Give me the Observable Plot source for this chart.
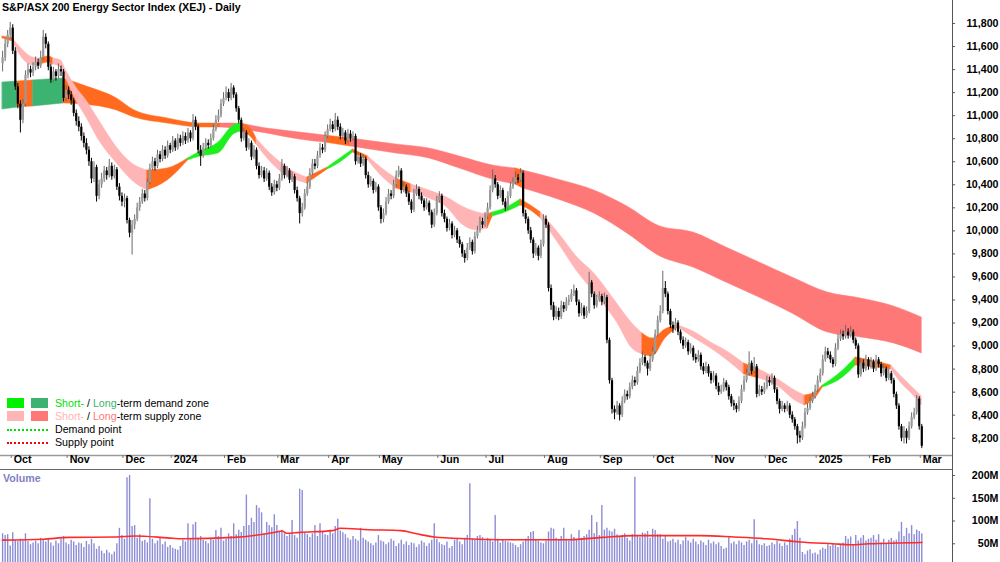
<!DOCTYPE html>
<html>
<head>
<meta charset="utf-8">
<script src="https://cdn.jsdelivr.net/npm/d3@7"></script>
<script src="https://cdn.jsdelivr.net/npm/@observablehq/plot@0.6"></script>
<style>
  html,body{margin:0;padding:0;background:#fff;}
  #wrap{position:relative;width:1000px;height:562px;overflow:hidden;background:#fff;font-family:"Liberation Sans",Arial,sans-serif;}
  #price,#vol{position:absolute;left:0;}
  #price{top:0;} #vol{top:469px;}
  #price svg,#vol svg{display:block;}
  .ov{position:absolute;white-space:nowrap;font-size:10.67px;line-height:13px;color:#000;z-index:2;}
  .b{font-weight:bold;}
  .sq{position:absolute;width:17px;height:10px;z-index:2;}
  .dot{position:absolute;width:41px;height:0;z-index:2;}
</style>
</head>
<body>
<div id="wrap">
  <div id="price"></div>
  <div id="vol"></div>
  <div class="ov b" style="left:2px;top:1px;">S&amp;P/ASX 200 Energy Sector Index (XEJ) - Daily</div>
  <div class="ov b" style="left:3px;top:472px;color:#7f7fc6;">Volume</div>
  <div class="sq" style="left:7px;top:398px;background:#00f000;"></div>
  <div class="sq" style="left:31px;top:398px;background:#3cb371;"></div>
  <div class="sq" style="left:7px;top:411px;background:#ffb5b5;"></div>
  <div class="sq" style="left:31px;top:411px;background:#ff7878;"></div>
  <div class="dot" style="left:7px;top:429px;border-top:2px dotted #00e000;"></div>
  <div class="dot" style="left:7px;top:442px;border-top:2px dotted #ff0000;"></div>
  <div class="ov" style="left:55px;top:397px;"><span style="color:#00dd00">Short-</span> / <span style="color:#3cb371">Long</span>-term demand zone</div>
  <div class="ov" style="left:55px;top:410px;"><span style="color:#ffb5b5">Short-</span> / <span style="color:#ff7878">Long</span>-term supply zone</div>
  <div class="ov" style="left:55px;top:423px;">Demand point</div>
  <div class="ov" style="left:55px;top:436px;">Supply point</div>
</div>
<script>
// ---- Daily candles (index 0 = 26 Sep 2023 ... 362 = 3 Mar 2025) ----
const open = [
11450,11500,11620,11700,11760,11560,11250,11100,10960,11100,
11350,11400,11370,11420,11460,11430,11500,11680,11620,11420,
11310,11380,11340,11400,11380,11150,11220,11180,11130,11020,
10950,10900,10820,10760,10700,10600,10450,10550,10300,10400,
10450,10520,10480,10560,10470,10530,10380,10300,10250,10280,
10090,9980,10050,10100,10200,10250,10320,10280,10420,10540,
10600,10560,10660,10620,10700,10650,10740,10700,10780,10720,
10800,10760,10820,10780,10850,10800,10960,10900,10700,10650,
10720,10760,10740,10800,10880,10960,11000,11100,11150,11200,
11150,11240,11180,11060,10960,10800,10850,10720,10760,10640,
10700,10560,10480,10520,10450,10500,10380,10330,10400,10370,
10450,10560,10480,10520,10440,10470,10350,10280,10150,10200,
10320,10380,10500,10580,10560,10650,10720,10700,10820,10880,
10920,10880,10960,10900,10820,10850,10780,10840,10800,10820,
10600,10640,10580,10620,10480,10400,10430,10350,10380,10200,
10100,10150,10250,10320,10300,10400,10480,10520,10350,10380,
10320,10250,10180,10320,10360,10300,10260,10200,10240,10160,
10050,10150,10260,10300,10150,10100,10020,10060,9960,10000,
9920,9880,9800,9760,9850,9900,9820,9950,10000,10080,
10050,10120,10200,10350,10450,10400,10300,10350,10250,10200,
10300,10380,10420,10460,10440,10500,10150,10100,10000,9920,
9800,9850,9780,9880,10100,10050,9500,9350,9250,9300,
9250,9350,9320,9380,9400,9450,9480,9380,9280,9330,
9260,9300,9550,9450,9350,9400,9430,9380,9420,9050,
8700,8450,8420,8480,8400,8520,8580,8560,8640,8700,
8680,8780,8850,8900,8850,8800,8880,8950,9100,9220,
9300,9500,9450,9300,9180,9150,9200,9120,9050,9000,
9030,8950,8980,8900,8880,8920,8820,8780,8820,8760,
8700,8740,8650,8600,8620,8680,8640,8560,8500,8480,
8450,8520,8620,8700,8760,8850,8780,8820,8580,8620,
8600,8640,8700,8680,8720,8620,8520,8450,8480,8450,
8480,8400,8360,8300,8220,8200,8300,8420,8460,8520,
8560,8620,8700,8760,8880,8950,8920,8880,8840,8980,
9060,9100,9080,9120,9090,9120,9050,9000,8750,8850,
8800,8880,8820,8860,8800,8880,8840,8760,8800,8720,
8760,8700,8580,8480,8300,8200,8260,8200,8300,8380,
8420,8540,8300];
const high = [
11560,11660,11740,11810,11790,11590,11280,11130,11140,11390,
11450,11430,11460,11510,11490,11560,11740,11710,11640,11450,
11420,11400,11450,11430,11400,11260,11250,11210,11150,11050,
10990,10930,10850,10800,10730,10630,10600,10570,10440,10500,
10560,10550,10620,10590,10570,10550,10410,10330,10320,10300,
10110,10090,10140,10240,10290,10360,10350,10450,10580,10640,
10630,10700,10690,10740,10730,10780,10760,10820,10800,10840,
10830,10860,10850,10890,10870,11010,10990,10920,10740,10760,
10800,10790,10840,10920,11000,11050,11140,11200,11250,11230,
11280,11260,11200,11080,10980,10890,10870,10800,10780,10740,
10720,10590,10560,10550,10540,10520,10410,10440,10430,10490,
10620,10580,10560,10540,10510,10490,10380,10300,10240,10360,
10420,10540,10620,10620,10690,10760,10750,10860,10920,10970,
10950,11020,10990,10930,10890,10870,10880,10870,10860,10840,
10680,10670,10660,10640,10510,10470,10450,10420,10400,10220,
10190,10290,10360,10350,10440,10520,10560,10540,10420,10400,
10340,10270,10360,10400,10380,10330,10280,10280,10260,10180,
10190,10300,10340,10320,10180,10120,10100,10080,10040,10020,
9950,9900,9830,9890,9940,9920,9990,10040,10120,10110,
10160,10240,10390,10530,10480,10420,10390,10370,10280,10340,
10420,10460,10510,10490,10540,10520,10180,10120,10030,9940,
9890,9870,9920,10140,10130,10070,9530,9380,9340,9330,
9390,9380,9420,9440,9490,9530,9500,9400,9370,9350,
9340,9640,9570,9470,9440,9470,9450,9460,9440,9070,
8720,8480,8520,8500,8560,8620,8610,8680,8740,8730,
8820,8890,8950,8920,8870,8920,8990,9140,9260,9350,
9650,9560,9470,9320,9210,9240,9220,9140,9080,9070,
9050,9020,9000,8930,8960,8940,8850,8860,8840,8780,
8780,8760,8680,8660,8720,8700,8660,8580,8530,8500,
8560,8660,8740,8800,8950,8870,8900,8840,8660,8650,
8680,8740,8730,8760,8740,8640,8540,8520,8500,8520,
8500,8430,8380,8320,8260,8340,8460,8500,8560,8600,
8660,8740,8800,8920,8990,8980,8950,8900,9020,9100,
9140,9130,9180,9150,9170,9140,9070,9020,8890,8880,
8920,8900,8900,8880,8920,8900,8860,8840,8820,8800,
8780,8720,8600,8500,8320,8300,8280,8340,8420,8460,
8570,8560,8320];
const low = [
11380,11470,11590,11670,11530,11220,11060,10850,10930,11080,
11320,11330,11340,11390,11400,11410,11480,11580,11390,11280,
11290,11300,11320,11340,11120,11120,11140,11090,10990,10910,
10860,10780,10720,10660,10560,10410,10420,10250,10270,10370,
10420,10440,10460,10440,10450,10350,10260,10210,10200,10060,
9940,9790,10010,10080,10170,10230,10250,10260,10400,10520,
10520,10540,10590,10600,10620,10630,10670,10680,10690,10700,
10730,10740,10750,10760,10770,10780,10870,10670,10560,10630,
10700,10710,10720,10780,10860,10940,10980,11080,11130,11120,
11130,11150,11030,10930,10770,10780,10690,10700,10610,10620,
10530,10450,10460,10420,10430,10350,10300,10310,10340,10350,
10430,10450,10460,10410,10420,10320,10250,10060,10120,10180,
10300,10360,10480,10530,10540,10630,10670,10680,10800,10860,
10850,10860,10870,10790,10800,10750,10760,10770,10780,10570,
10580,10550,10560,10450,10370,10380,10320,10330,10170,10060,
10070,10130,10230,10270,10280,10380,10460,10320,10330,10290,
10220,10150,10160,10300,10270,10230,10170,10180,10130,10020,
10030,10130,10240,10120,10070,9990,10000,9930,9940,9890,
9850,9770,9720,9740,9830,9790,9800,9930,9980,10020,
10030,10100,10180,10330,10370,10270,10280,10220,10170,10180,
10280,10360,10400,10410,10420,10120,10060,9970,9890,9760,
9780,9740,9760,9860,10020,9470,9310,9220,9230,9220,
9230,9290,9300,9350,9380,9430,9350,9250,9260,9230,
9240,9280,9420,9320,9330,9380,9350,9360,9020,8670,
8410,8360,8400,8350,8380,8500,8530,8540,8620,8650,
8660,8760,8830,8820,8740,8780,8860,8930,9080,9200,
9280,9420,9270,9150,9110,9130,9090,9020,8970,8980,
8920,8930,8870,8850,8860,8790,8750,8760,8730,8670,
8680,8620,8570,8580,8600,8610,8530,8470,8440,8420,
8430,8500,8600,8680,8740,8750,8760,8550,8560,8570,
8580,8620,8650,8660,8590,8490,8410,8430,8420,8430,
8370,8330,8270,8150,8160,8180,8280,8400,8440,8500,
8540,8600,8680,8740,8860,8890,8850,8810,8820,8960,
9040,9050,9060,9060,9070,9020,8970,8720,8730,8770,
8780,8790,8800,8770,8780,8810,8730,8740,8690,8700,
8670,8550,8450,8270,8170,8150,8150,8180,8280,8360,
8400,8270,8110];
const close = [
11500,11620,11700,11760,11560,11250,11100,10960,11100,11350,
11400,11370,11420,11460,11430,11500,11680,11620,11420,11310,
11380,11340,11400,11380,11150,11220,11180,11130,11020,10950,
10900,10820,10760,10700,10600,10450,10550,10300,10400,10450,
10520,10480,10560,10470,10530,10380,10300,10250,10280,10090,
9980,10050,10100,10200,10250,10320,10280,10420,10540,10600,
10560,10660,10620,10700,10650,10740,10700,10780,10720,10800,
10760,10820,10780,10850,10800,10960,10900,10700,10650,10720,
10760,10740,10800,10880,10960,11000,11100,11150,11200,11150,
11240,11180,11060,10960,10800,10850,10720,10760,10640,10700,
10560,10480,10520,10450,10500,10380,10330,10400,10370,10450,
10560,10480,10520,10440,10470,10350,10280,10150,10200,10320,
10380,10500,10580,10560,10650,10720,10700,10820,10880,10920,
10880,10960,10900,10820,10850,10780,10840,10800,10820,10600,
10640,10580,10620,10480,10400,10430,10350,10380,10200,10100,
10150,10250,10320,10300,10400,10480,10520,10350,10380,10320,
10250,10180,10320,10360,10300,10260,10200,10240,10160,10050,
10150,10260,10300,10150,10100,10020,10060,9960,10000,9920,
9880,9800,9760,9850,9900,9820,9950,10000,10080,10050,
10120,10200,10350,10450,10400,10300,10350,10250,10200,10300,
10380,10420,10460,10440,10500,10150,10100,10000,9920,9800,
9850,9780,9880,10100,10050,9500,9350,9250,9300,9250,
9350,9320,9380,9400,9450,9480,9380,9280,9330,9260,
9300,9550,9450,9350,9400,9430,9380,9420,9050,8700,
8450,8420,8480,8400,8520,8580,8560,8640,8700,8680,
8780,8850,8900,8850,8800,8880,8950,9100,9220,9300,
9500,9450,9300,9180,9150,9200,9120,9050,9000,9030,
8950,8980,8900,8880,8920,8820,8780,8820,8760,8700,
8740,8650,8600,8620,8680,8640,8560,8500,8480,8450,
8520,8620,8700,8760,8850,8780,8820,8580,8620,8600,
8640,8700,8680,8720,8620,8520,8450,8480,8450,8480,
8400,8360,8300,8220,8200,8300,8420,8460,8520,8560,
8620,8700,8760,8880,8950,8920,8880,8840,8980,9060,
9100,9080,9120,9090,9120,9050,9000,8750,8850,8800,
8880,8820,8860,8800,8880,8840,8760,8800,8720,8760,
8700,8580,8480,8300,8200,8260,8200,8300,8380,8420,
8540,8300,8130];
// volume, millions of shares
const volume = [
72,68,70,45,74,58,55,60,56,72,
55,48,52,56,50,62,58,54,60,52,
45,56,50,60,66,52,48,58,54,46,
52,50,42,55,48,60,50,38,44,34,
28,36,30,26,32,50,84,68,60,195,
200,88,90,62,70,55,58,52,149,60,
50,56,62,48,54,42,46,40,38,36,
44,58,54,94,60,92,97,62,66,58,
55,50,62,58,79,66,84,56,60,72,
66,94,70,80,75,88,157,90,106,97,
134,128,118,72,97,90,85,114,90,76,
80,72,66,70,101,68,62,170,167,74,
70,64,72,90,66,94,76,70,68,80,
72,88,104,78,74,70,62,58,66,60,
56,84,62,58,54,50,46,52,68,56,
54,48,52,60,56,44,50,58,48,54,
46,52,50,42,48,56,52,44,50,58,
94,60,52,48,46,54,40,44,58,60,
54,48,62,68,182,60,58,66,68,64,
56,62,60,54,112,60,52,58,55,54,
52,50,46,42,48,54,60,66,75,77,
58,56,52,50,56,76,84,82,62,58,
66,84,60,56,70,64,58,79,62,66,
70,80,112,72,97,68,134,80,84,78,
76,82,70,66,68,72,62,56,70,196,
66,64,74,72,77,62,82,79,70,70,
60,66,54,56,60,52,58,48,56,64,
56,52,60,54,48,56,52,46,58,50,
54,48,52,44,38,40,66,50,54,48,
56,52,46,54,58,50,103,58,48,46,
50,44,46,52,48,56,50,44,52,46,
60,68,82,99,62,31,26,34,37,28,
30,26,36,40,38,48,44,50,46,42,
48,52,66,60,65,48,68,56,62,68,
56,60,62,68,58,70,52,60,50,58,
62,56,58,76,97,66,84,72,90,70,
80,77,72];
// volume moving average (read at knots)
const volMaIdx = [0,16,26,45,52,65,71,91,108,110,112,117,130,133,144,157,163,170,183,196,223,236,249,275,288,301,314,327,334,341,362];
const volMaVal = [58,60,64,65,67,63,61,64,76,78,73,75,79,84,81,79,72,65,61,59,59,64,68,68,65,61,54,50,48,50,53];

// short-term zone edges (knots) and zone state: p = supply, g = demand, o = transition
const stIdx = [0,4,7,12,15,18,20,23,25,29,33,38,45,51,57,65,73,78,85,91,94,98,100,105,110,116,120,124,128,133,138,144,149,155,161,168,175,181,187,191,193,197,204,208,212,220,226,233,242,248,252,256,261,266,272,279,286,292,298,306,312,316,320,323,331,336,344,350,354,358,362];
const stTop = [11688,11670,11592,11505,11497,11514,11497,11479,11392,11245,11132,10958,10724,10585,10524,10542,10629,10689,10767,10915,10932,10880,10802,10681,10585,10498,10464,10507,10550,10629,10707,10646,10550,10455,10403,10351,10290,10212,10160,10142,10160,10186,10273,10221,10160,9952,9778,9630,9370,9196,9110,9066,9144,9179,9127,9031,8945,8849,8797,8702,8615,8571,8597,8658,8788,8901,8866,8832,8736,8650,8563];
const stBot = [11670,11644,11523,11436,11444,11462,11444,11418,11323,11132,10984,10785,10585,10438,10351,10438,10611,10646,10672,10837,10863,10811,10750,10611,10507,10438,10412,10472,10533,10594,10681,10611,10481,10368,10333,10281,10203,10056,10004,10021,10125,10151,10221,10177,10108,9856,9656,9465,9205,8979,8927,8910,9066,9162,9075,8979,8866,8754,8719,8641,8528,8485,8545,8641,8728,8832,8814,8797,8676,8589,8485];
const stZone = "opppoopppp" + "ppppoogggg" + "ooppppoogg" + "oppopppppo" + "ggoopppppp" + "oooppppopp" + "pooggooppp" + "p";

// long-term zone edges (knots): r = supply, g = demand, o = transition
const ltIdx = [0,6,12,24,32,45,52,65,78,86,91,104,117,127,137,155,168,180,193,202,205,220,233,246,259,272,285,298,311,325,338,351,362];
const ltTop = [11288,11297,11306,11323,11262,11149,11045,10976,10932,10932,10932,10889,10854,10828,10802,10750,10715,10646,10568,10542,10524,10438,10351,10212,10038,9986,9856,9726,9596,9465,9413,9344,9248];
const ltBot = [11054,11071,11080,11106,11097,11045,10984,10932,10898,10898,10889,10846,10793,10767,10733,10672,10629,10542,10446,10403,10368,10264,10151,9978,9778,9682,9552,9422,9283,9118,9075,9023,8936];
const ltZone = "gogoooooo" + "rrrr" + "o" + "rrrrr" + "o" + "rrrrrrrrrrrrr";

const monthLabels = ["Oct","Nov","Dec","2024","Feb","Mar","Apr","May","Jun","Jul","Aug","Sep","Oct","Nov","Dec","2025","Feb","Mar"];
const monthStart = [4,26,48,67,88,109,129,149,172,191,214,236,257,280,301,321,342,362];
const priceTicks = [8200,8400,8600,8800,9000,9200,9400,9600,9800,10000,10200,10400,10600,10800,11000,11200,11400,11600,11800];
const volTicks = [50,100,150,200];

const stPal = {p:"#ffb5b5", o:"#ff6a1f", g:"#1ef01e"};
const ltPal = {r:"#ff7878", o:"#ff6a1f", g:"#3cb371"};

function bandData(idx, top, bot, zone, pal) {
  const out = [];
  let run = 0;
  for (let k = 0; k < idx.length; k++) {
    const z = zone[k];
    if (k > 0 && z !== zone[k-1]) {
      out.push({i: idx[k], top: top[k], bot: bot[k], run, fill: pal[zone[k-1]]});
      run++;
    }
    out.push({i: idx[k], top: top[k], bot: bot[k], run, fill: pal[z]});
  }
  return out;
}

const candles = close.map((c, i) => ({i, o: open[i], h: high[i], l: low[i], c}));
const months = monthLabels.map((label, k) => ({label, i: monthStart[k]}));
const vols = volume.map((v, i) => ({i, v}));
const volMa = volMaIdx.map((i, k) => ({i, v: volMaVal[k]}));
const xDomain = [-0.83, 374.1];
const yLow = 8050, yHigh = 12000, yBand = 7928.5;
const fmt = d3.format(",");
const font = "'Liberation Sans', Arial, sans-serif";
const upC = "#9a9a9a", upW = "#6a6a6a";

const pricePlot = Plot.plot({
  width: 1000, height: 469,
  marginTop: 0, marginBottom: 14, marginLeft: 0, marginRight: 48,
  x: {domain: xDomain, axis: null},
  y: {domain: [yLow, yHigh], axis: null},
  color: {type: "identity"},
  style: {background: "transparent", fontFamily: font, fontSize: "10.67px", color: "#000", overflow: "visible"},
  marks: [
    Plot.areaY(bandData(ltIdx, ltTop, ltBot, ltZone, ltPal), {x: "i", y1: "bot", y2: "top", z: "run", fill: "fill", stroke: "fill", strokeWidth: 0.5, curve: "monotone-x"}),
    Plot.areaY(bandData(stIdx, stTop, stBot, stZone, stPal), {x: "i", y1: "bot", y2: "top", z: "run", fill: "fill", stroke: "fill", strokeWidth: 0.5, curve: "monotone-x"}),
    Plot.ruleX(candles, {x: "i", y1: "l", y2: "h", stroke: d => d.c >= d.o ? upW : "#000", strokeWidth: 1}),
    Plot.ruleX(candles, {x: "i", y1: "o", y2: "c", stroke: d => d.c >= d.o ? upC : "#000", strokeWidth: 2.2}),
    Plot.ruleY([yLow], {stroke: "#9a9a9a", strokeWidth: 1.5}),
    Plot.ruleY([yBand], {stroke: "#666"}),
    Plot.ruleX(months, {x: d => d.i - 0.6, y1: yLow, y2: yLow - 26, stroke: "#777"}),
    Plot.text(months, {x: "i", text: "label", frameAnchor: "bottom", dy: 7.5, dx: 1, textAnchor: "start", fontWeight: "bold", fontSize: 10.67, fill: "#000"}),
    Plot.ruleX([xDomain[1]], {y1: yHigh, y2: yBand, stroke: "#555"}),
    Plot.ruleY(priceTicks, {y: d => d, x1: xDomain[1], x2: xDomain[1] + 1.2, stroke: "#555"}),
    Plot.text(priceTicks, {y: d => d, text: d => fmt(d), frameAnchor: "right", dx: 46, textAnchor: "end", fontWeight: "bold", fontSize: 10.67, fill: "#000"})
  ]
});
document.getElementById("price").appendChild(pricePlot);

const volPlot = Plot.plot({
  width: 1000, height: 93,
  marginTop: 0, marginBottom: 0, marginLeft: 0, marginRight: 48,
  x: {domain: xDomain, axis: null},
  y: {domain: [8.9, 213.2], axis: null},
  style: {background: "transparent", fontFamily: font, fontSize: "10.67px", color: "#000"},
  marks: [
    Plot.ruleX(vols, {x: "i", y1: 0, y2: "v", stroke: "#8c8cd6", strokeWidth: 1.4}),
    Plot.line(volMa, {x: "i", y: "v", stroke: "#ff2a2a", strokeWidth: 1.6, curve: "monotone-x"}),
    Plot.ruleX([xDomain[1]], {stroke: "#555"}),
    Plot.ruleY(volTicks, {y: d => d, x1: xDomain[1], x2: xDomain[1] + 1.2, stroke: "#555"}),
    Plot.text(volTicks, {y: d => d, text: d => d + "M", frameAnchor: "right", dx: 46, textAnchor: "end", fontWeight: "bold", fontSize: 10.67, fill: "#000"})
  ]
});
document.getElementById("vol").appendChild(volPlot);
</script>
</body>
</html>
